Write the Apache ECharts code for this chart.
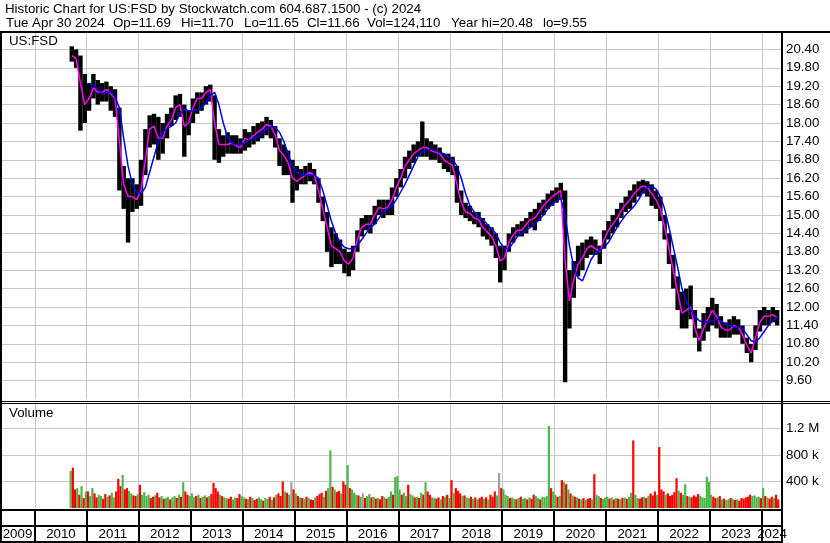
<!DOCTYPE html>
<html><head><meta charset="utf-8">
<script src="https://cdn.jsdelivr.net/npm/echarts@6/dist/echarts.min.js"></script>
<style>html,body{margin:0;padding:0;background:#fff}#c{width:830px;height:543px}</style>
</head><body><div id="c"></div>
<script>
// ---------- DATA (monthly, Sep 2010 .. Apr 2024) ----------
const firstMonth = [2010, 9];
const priceHigh = [
  20.5, 20.4, 20.2, 19.6,
  19.3, 19.6, 19.4, 19.3, 19.35, 19.2, 19.1, 18.5, 16.6, 16.2, 16.2, 16.0,
  16.8, 17.8, 18.25, 18.3, 18.2, 18.0, 18.3, 18.5, 18.9, 18.95, 18.6, 18.4,
  18.8, 19.0, 19.0, 19.2, 19.25, 18.9, 17.8, 17.6, 17.7, 17.6, 17.6, 17.5,
  17.8, 17.7, 17.9, 18.0, 18.05, 18.2, 18.1, 17.9, 17.5, 17.3, 17.1, 16.8,
  16.6, 16.5, 16.6, 16.7, 16.5, 16.2, 15.6, 15.1, 14.6, 14.4, 14.2, 13.9,
  13.8, 14.0, 14.5, 14.9, 15.0, 15.0, 15.3, 15.5, 15.5, 15.5, 15.9, 16.2,
  16.5, 16.9, 17.1, 17.3, 17.4, 18.05, 17.5, 17.4, 17.3, 17.2, 17.0, 17.0,
  16.9, 16.6, 15.8, 15.4, 15.3, 15.1, 15.1, 14.9, 14.7, 14.6, 14.4, 14.0,
  14.0, 14.4, 14.6, 14.7, 14.8, 14.9, 15.1, 15.2, 15.4, 15.5, 15.7, 15.8,
  15.9, 16.05, 15.8, 13.2, 13.5, 14.0, 14.1, 14.2, 14.3, 14.2, 14.0, 14.5,
  14.8, 15.0, 15.2, 15.4, 15.6, 15.8, 16.0, 16.1, 16.15, 16.1, 16.0, 15.8,
  15.6, 15.0, 14.4, 13.7, 13.0, 12.5, 12.6, 12.7, 11.9, 11.3, 11.8, 12.0,
  12.3, 12.1, 11.7, 11.5, 11.6, 11.7, 11.6, 11.4, 11.0, 10.8, 11.4, 11.9,
  12.0, 11.9, 12.0, 11.9
];
const priceLow = [
  20.0, 19.8, 17.75, 18.0,
  18.4, 18.8, 18.6, 18.7, 18.7, 18.4, 18.2, 15.8, 15.2, 14.1, 15.1, 15.2,
  15.3, 16.3, 17.2, 17.3, 16.8, 17.0, 17.5, 17.9, 18.1, 18.2, 16.9, 17.6,
  18.0, 18.3, 18.4, 18.6, 18.7, 16.8, 16.7, 16.9, 17.0, 17.0, 17.0, 17.0,
  17.1, 17.2, 17.3, 17.4, 17.5, 17.6, 17.5, 17.2, 16.6, 16.3, 16.3, 15.4,
  15.8, 16.0, 16.0, 16.1, 16.0, 15.4, 14.8, 13.8, 13.3, 13.4, 13.4, 13.1,
  13.0, 13.2, 13.8, 14.3, 14.5, 14.4, 14.7, 15.0, 14.9, 15.0, 15.0, 15.6,
  15.9, 16.2, 16.5, 16.7, 16.9, 16.9, 16.9, 16.8, 16.8, 16.7, 16.5, 16.4,
  16.3, 15.4, 15.0, 14.9, 14.8, 14.7, 14.6, 14.3, 14.2, 14.0, 13.6, 12.8,
  13.2, 13.8, 14.1, 14.3, 14.3, 14.4, 14.6, 14.5, 14.8, 15.0, 15.2, 15.3,
  15.4, 15.5, 9.55, 11.3, 12.3, 13.0, 13.2, 13.6, 13.7, 13.7, 13.4, 13.9,
  14.2, 14.4, 14.6, 14.9, 15.1, 15.2, 15.4, 15.6, 15.7, 15.6, 15.3, 15.2,
  14.8, 14.2, 13.4, 12.6, 11.9, 11.3, 11.3, 11.6, 11.0, 10.55, 10.9, 11.2,
  11.4, 11.3, 11.0, 11.0, 11.0, 11.1, 11.1, 10.8, 10.5, 10.2, 10.6, 11.2,
  11.4, 11.4, 11.5, 11.4
];
const maFast = [
  20.2, 20.1, 19.3, 18.6,
  18.8, 19.15, 19.0, 19.0, 19.1, 18.95, 18.8, 17.4, 16.0, 15.6, 15.6, 15.5,
  15.8, 16.8, 17.8, 17.9, 17.5, 17.5, 17.9, 18.1, 18.5, 18.6, 17.9, 18.0,
  18.5, 18.8, 18.8, 19.0, 19.1, 18.0, 17.3, 17.3, 17.3, 17.35, 17.25, 17.2,
  17.5, 17.45, 17.6, 17.7, 17.8, 17.95, 17.9, 17.6, 17.1, 16.95, 16.7, 16.2,
  16.1, 16.2, 16.3, 16.4, 16.3, 15.8, 15.2, 14.6, 14.0, 13.9, 13.8, 13.5,
  13.4, 13.6, 14.2, 14.6, 14.7, 14.7, 15.0, 15.25, 15.2, 15.25, 15.5, 15.9,
  16.2, 16.6, 16.8, 17.0, 17.1, 17.2, 17.2, 17.1, 17.05, 17.0, 16.8, 16.7,
  16.6, 16.0, 15.4, 15.1, 15.05, 14.9, 14.85, 14.6, 14.45, 14.3, 14.0, 13.5,
  13.6, 14.1, 14.35, 14.5, 14.5, 14.7, 14.85, 14.9, 15.1, 15.3, 15.45, 15.6,
  15.7, 15.8, 13.5, 12.2, 12.9, 13.4, 13.6, 13.9, 14.0, 13.9, 13.8, 14.2,
  14.5, 14.7, 14.9, 15.15, 15.35, 15.5, 15.7, 15.85, 15.95, 15.9, 15.7, 15.5,
  15.2, 14.6, 13.9, 13.2, 12.5, 11.8, 11.9, 12.0, 11.3, 10.9, 11.3, 11.6,
  11.9, 11.7, 11.35, 11.25, 11.25, 11.4, 11.35, 11.1, 10.75, 10.5, 11.0, 11.5,
  11.7, 11.7, 11.75, 11.65
];
const maSlow = [
  null, null, null, null,
  19.3, 19.25, 19.1, 18.95, 19.0, 19.0, 18.85, 18.5, 17.5, 16.6, 16.0, 15.75,
  15.7, 15.9, 16.4, 16.9, 17.4, 17.7, 17.8, 17.9, 18.0, 18.3, 18.45, 18.4,
  18.4, 18.45, 18.5, 18.65, 18.9, 19.0, 18.6, 18.0, 17.55, 17.35, 17.3, 17.3,
  17.35, 17.45, 17.5, 17.55, 17.65, 17.8, 17.88, 17.85, 17.7, 17.4, 17.0, 16.6,
  16.4, 16.3, 16.3, 16.3, 16.3, 16.2, 15.8, 15.3, 14.8, 14.4, 14.1, 13.95,
  13.9, 13.9, 14.0, 14.2, 14.4, 14.6, 14.7, 14.9, 15.1, 15.2, 15.3, 15.5,
  15.75, 16.0, 16.3, 16.6, 16.9, 17.05, 17.1, 17.15, 17.1, 17.05, 17.0, 16.9,
  16.8, 16.6, 16.2, 15.7, 15.3, 15.1, 14.95, 14.85, 14.7, 14.55, 14.4, 14.1,
  13.9, 13.9, 14.1, 14.3, 14.4, 14.5, 14.6, 14.7, 14.85, 15.0, 15.2, 15.35,
  15.45, 15.55, 15.0, 14.0, 13.3, 12.95, 12.85, 13.2, 13.55, 13.75, 13.85, 13.95,
  14.1, 14.35, 14.6, 14.8, 15.0, 15.15, 15.3, 15.5, 15.75, 15.9, 15.93, 15.85,
  15.6, 15.2, 14.6, 13.95, 13.3, 12.6, 12.2, 11.9, 11.7, 11.55, 11.5, 11.5,
  11.55, 11.6, 11.55, 11.45, 11.4, 11.35, 11.35, 11.3, 11.1, 10.9, 10.85, 11.0,
  11.2, 11.4, 11.55, 11.65
];
// volume, two bars per month (thousands of shares), Sep 2010 .. Apr 2024
const volume = [
  560,610,280,300,200,330,150,250,
  250,180,300,220,160,200,180,140,210,170,190,230,160,250,440,330,500,280,300,260,220,190,180,210,
  350,200,240,180,200,150,170,190,230,160,180,140,150,170,130,160,180,150,200,170,390,250,200,180,
  220,160,180,200,150,170,190,160,180,210,380,300,250,200,180,160,150,140,170,130,160,150,210,180,
  160,140,130,170,150,120,140,160,130,110,150,140,170,120,160,200,220,180,400,250,230,200,390,280,
  220,180,160,150,140,170,150,130,120,160,180,210,230,170,260,300,870,320,280,240,260,220,400,350,
  650,300,280,230,200,190,170,220,150,180,210,160,170,140,150,130,180,160,140,170,250,200,470,480,
  280,200,230,180,350,210,190,160,170,150,230,200,390,250,200,160,150,140,160,130,180,170,200,150,
  420,230,300,260,220,180,190,160,150,170,140,160,130,150,170,140,160,130,200,170,250,190,530,300,
  280,200,180,150,160,140,130,150,170,140,150,130,160,140,200,180,150,130,170,160,180,1240,300,250,
  200,170,180,420,390,360,280,220,190,170,160,140,130,150,120,140,150,130,510,200,180,150,140,160,
  170,140,160,130,150,140,130,150,160,140,170,230,1020,200,150,140,160,170,150,180,220,190,250,200,
  920,280,250,200,220,180,200,240,450,260,230,200,360,180,170,160,190,170,210,180,160,150,470,390,
  200,170,150,160,180,130,140,120,130,150,140,120,130,110,150,140,160,170,200,180,190,160,170,150,
  300,180,160,140,170,150,200,130
];
// g = up, r = down, n = unchanged
const volumeDir = (
  'grrgrgrg' +
  'rggrrggrrgrggrrrgrrggrrg' + 'rggggrrgrrgrggrggrgrgrrg' + 'ggrgrggrgrrrrgrggrrggrrg' +
  'grgrgrrggrggrgrgrrrgrgnr' + 'grgrgrgrrgrrrgrggrgrrgrr' + 'grgggrgnrggrgrgrrgrggrgg' +
  'grggrggrgrgrgrrggrrgrgrg' + 'rgrrrgrggrgrgrrgrgrrrgnr' + 'gggrggrgrggrgrrggrggggrg' +
  'grgrgrgrgrgrgrgrrgrggrgg' + 'grgrgrgrgrggrggrrgrgrrrg' + 'rrrgrrrrrgrggrgrrrrggggg' +
  'grrgrgrggrgrgrrrrrrggggr' + 'grgrrgrr'
).split('');
const yearLabels = [2009,2010,2011,2012,2013,2014,2015,2016,2017,2018,2019,2020,2021,2022,2023,2024];
const priceTicks = [9.6,10.2,10.8,11.4,12.0,12.6,13.2,13.8,14.4,15.0,15.6,16.2,16.8,17.4,18.0,18.6,19.2,19.8,20.4];
const volTicks = [400000, 800000, 1200000];
const volTickText = ['400 k', '800 k', '1.2 M'];
const titleLine1 = 'Historic Chart for US:FSD by Stockwatch.com 604.687.1500 - (c) 2024';
const titleLine2 = [['Tue Apr 30 2024', 6], ['Op=11.69', 113], ['Hi=11.70', 181], ['Lo=11.65', 244],
                    ['Cl=11.66', 307], ['Vol=124,110', 367], ['Year hi=20.48', 451], ['lo=9.55', 543]];

// ---------- BUILD ----------
const FONT_FAMILY = '"Liberation Sans", Arial, sans-serif';
const FS = 13.3;
const T_MIN = 2009.326, T_MAX = 2024.385;
const monthT = priceHigh.map((_, i) => {
  const m = firstMonth[1] - 1 + i;
  return firstMonth[0] + (m + 0.5) / 12;
});
const volT = volume.map((_, j) => {
  const m = firstMonth[1] - 1 + Math.floor(j / 2);
  return firstMonth[0] + (m + 0.25 + 0.5 * (j % 2)) / 12;
});
const dirColor = { g: '#4cb84c', r: '#ff0000', n: '#a0a0a0' };

const chart = echarts.init(document.getElementById('c'), null, { renderer: 'canvas' });

function yearLine(color, w, yMin) {
  return function (params, api) {
    const t = api.value(0);
    if (t <= T_MIN) return null;
    const x = api.coord([t, yMin])[0];
    const cs = params.coordSys;
    return { type: 'rect', shape: { x: Math.round(x - w / 2), y: cs.y, width: w, height: cs.height },
             style: { fill: color }, silent: true };
  };
}

const G = [];
function rect(x, y, w, h) { G.push({ type: 'rect', shape: { x, y, width: w, height: h }, style: { fill: '#000' }, z: 100, silent: true }); }
function text(str, x, y) { G.push({ type: 'text', x, y, z: 100, silent: true,
  style: { text: str, fill: '#000', fontSize: FS, fontFamily: FONT_FAMILY, align: 'left', verticalAlign: 'middle' } }); }
text(titleLine1, 5, 9.5);
titleLine2.forEach(([s, x]) => text(s, x, 23.5));
text('US:FSD', 9, 41);
text('Volume', 9, 413);
rect(0, 31, 830, 2);
rect(0, 31, 2, 512);
rect(781, 31, 2, 512);
rect(0, 401, 830, 1);
rect(0, 403, 830, 1);
rect(0, 509, 782, 2);
rect(0, 525, 782, 2);
rect(0, 541, 782, 2);

const lens = [priceHigh.length, priceLow.length, maFast.length, maSlow.length, volume.length / 2, volumeDir.length / 2];
if (new Set(lens).size !== 1) {
  G.push({ type: 'text', x: 300, y: 250, z: 200, style: { text: 'LEN ' + lens.join(','), fill: 'red', fontSize: 30 } });
}

const axisLabelBase = { color: '#000', fontSize: FS, fontFamily: FONT_FAMILY, margin: 4 };
const splitGray = { show: true, showMinLine: false, showMaxLine: false, lineStyle: { color: '#c8c8c8', width: 1 } };

chart.setOption({
  animation: false,
  backgroundColor: '#fff',
  graphic: G,
  grid: [
    { left: 0, top: 31, width: 782, height: 368 },
    { left: 0, top: 402, width: 782, height: 106 },
    { left: 0, top: 509, width: 782, height: 34 }
  ],
  xAxis: [0, 1, 2].map(i => ({ gridIndex: i, type: 'value', min: T_MIN, max: T_MAX, show: false })),
  yAxis: [
    { gridIndex: 0, type: 'value', min: 9.0, max: 21.0, interval: 0.6, position: 'right',
      axisLine: { show: false }, axisTick: { show: false }, splitLine: splitGray,
      axisLabel: Object.assign({}, axisLabelBase, {
        formatter: v => { const k = priceTicks.findIndex(p => Math.abs(p - v) < 1e-6); return k >= 0 ? priceTicks[k].toFixed(2) : ''; } }) },
    { gridIndex: 1, type: 'value', min: 0, max: 1600000, interval: 400000, position: 'right',
      axisLine: { show: false }, axisTick: { show: false }, splitLine: splitGray,
      axisLabel: Object.assign({}, axisLabelBase, {
        formatter: v => { const k = volTicks.indexOf(v); return k >= 0 ? volTickText[k] : ''; } }) },
    { gridIndex: 2, type: 'value', min: 0, max: 1, show: false }
  ],
  series: [
    { type: 'custom', name: 'priceGridYears', xAxisIndex: 0, yAxisIndex: 0, z: 1, silent: true,
      data: yearLabels.map(y => [y]), renderItem: yearLine('#c8c8c8', 1, 9) },
    { type: 'custom', name: 'volGridYears', xAxisIndex: 1, yAxisIndex: 1, z: 1, silent: true,
      data: yearLabels.map(y => [y]), renderItem: yearLine('#c8c8c8', 1, 0) },
    { type: 'custom', name: 'yearCells', xAxisIndex: 2, yAxisIndex: 2, z: 50, silent: true,
      data: yearLabels.map(y => [y]),
      renderItem: function (params, api) {
        const y = api.value(0);
        const cs = params.coordSys;
        const x0 = api.coord([Math.max(y, T_MIN), 0])[0];
        const x1 = api.coord([Math.min(y + 1, T_MAX), 0])[0];
        const children = [{ type: 'text', style: { text: String(y), x: (x0 + x1) / 2, y: 534.5,
          align: 'center', verticalAlign: 'middle', fill: '#000', fontSize: FS, fontFamily: FONT_FAMILY } }];
        if (y > T_MIN) children.push({ type: 'rect', shape: { x: Math.round(x0) - 1, y: cs.y, width: 2, height: cs.height }, style: { fill: '#000' } });
        return { type: 'group', children };
      } },
    { type: 'custom', name: 'priceBars', xAxisIndex: 0, yAxisIndex: 0, z: 5, silent: true,
      data: monthT.map((t, i) => [t, priceHigh[i], priceLow[i]]),
      renderItem: function (params, api) {
        const top = api.coord([api.value(0), api.value(1)]);
        const bot = api.coord([api.value(0), api.value(2)]);
        const w = 4.4;
        return { type: 'rect', shape: { x: top[0] - w / 2, y: top[1], width: w, height: Math.max(1, bot[1] - top[1]) },
                 style: { fill: '#000' } };
      } },
    { type: 'line', name: 'maFast', xAxisIndex: 0, yAxisIndex: 0, z: 6, showSymbol: false, silent: true,
      data: monthT.map((t, i) => [t, maFast[i]]), lineStyle: { color: '#ff00ff', width: 1.5 } },
    { type: 'line', name: 'maSlow', xAxisIndex: 0, yAxisIndex: 0, z: 7, showSymbol: false, silent: true,
      data: monthT.map((t, i) => [t, maSlow[i]]), lineStyle: { color: '#0000ff', width: 1.5 } },
    { type: 'custom', name: 'volume', xAxisIndex: 1, yAxisIndex: 1, z: 5, silent: true,
      data: volT.map((t, j) => [t, volume[j] * 1000, j]),
      renderItem: function (params, api) {
        const top = api.coord([api.value(0), api.value(1)]);
        const bot = api.coord([api.value(0), 0]);
        const w = 2.2;
        return { type: 'rect', shape: { x: top[0] - w / 2, y: top[1], width: w, height: bot[1] - top[1] },
                 style: { fill: dirColor[volumeDir[api.value(2)]] } };
      } }
  ]
});
</script></body></html>
